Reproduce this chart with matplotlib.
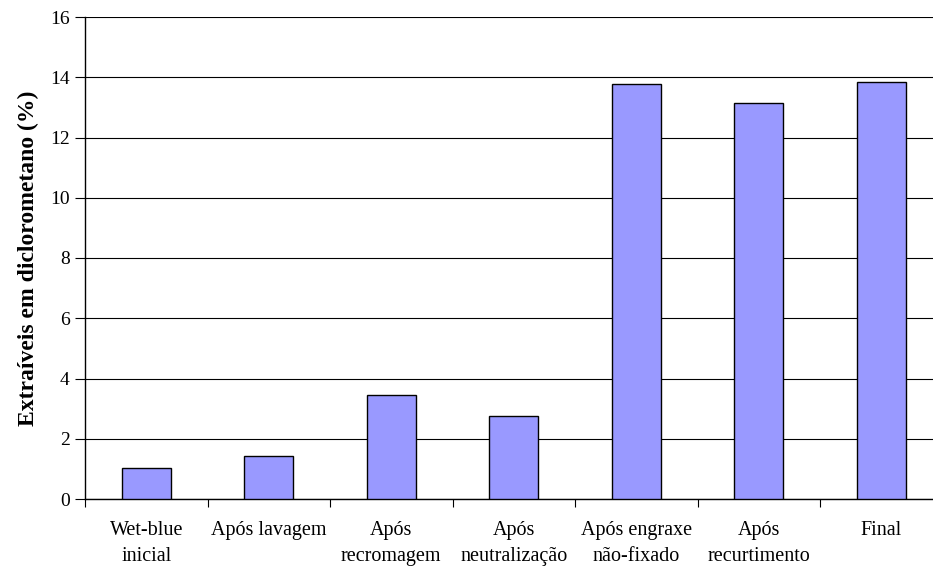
import matplotlib.pyplot as plt
import numpy as np

plt.rcParams.update({
    'font.family': 'Liberation Serif',
    'font.size': 14,
})

# dados
etapas = ['Wet-blue\ninicial', 'Após lavagem', 'Após\nrecromagem', 'Após\nneutralização',
          'Após engraxe\nnão-fixado', 'Após\nrecurtimento', 'Final']
extraiveis = [1.02, 1.42, 3.44, 2.77, 13.77, 13.15, 13.85]
y_ticks = [0, 2, 4, 6, 8, 10, 12, 14, 16]

fig = plt.figure(figsize=(9.33, 5.67), dpi=100)
# o gráfico original é cortado na borda direita
ax = fig.add_axes([85 / 933, 1 - 499 / 567, 857.6 / 933, 482 / 567])

x = np.arange(len(etapas))
ax.bar(x, extraiveis, width=0.4, color='#9999FF', edgecolor='black', linewidth=1.0, zorder=3)

ax.set_xlim(-0.5, len(etapas) - 0.5)
ax.set_ylim(0, 16)
ax.set_yticks(y_ticks)
ax.yaxis.grid(True, color='black', linewidth=0.8, zorder=0)
ax.set_axisbelow(True)

# ticks nas fronteiras das categorias
ax.set_xticks(np.arange(len(etapas) + 1) - 0.5)
ax.set_xticklabels([])
ax.set_xticks(x, minor=True)
ax.set_xticklabels(etapas, minor=True, fontsize=14.5, linespacing=1.45)
ax.tick_params(axis='x', which='minor', length=0, pad=16)
ax.tick_params(axis='x', which='major', length=6, width=0.8, direction='out')
ax.tick_params(axis='y', length=7, width=0.8, direction='out', pad=4)

for s in ['top', 'right']:
    ax.spines[s].set_visible(False)
ax.spines['left'].set_linewidth(1.0)
ax.spines['bottom'].set_linewidth(1.0)

ax.set_ylabel('Extraíveis em diclorometano (%)', fontweight='bold', fontsize=17, labelpad=8)

fig.savefig('out.png', dpi=100)
